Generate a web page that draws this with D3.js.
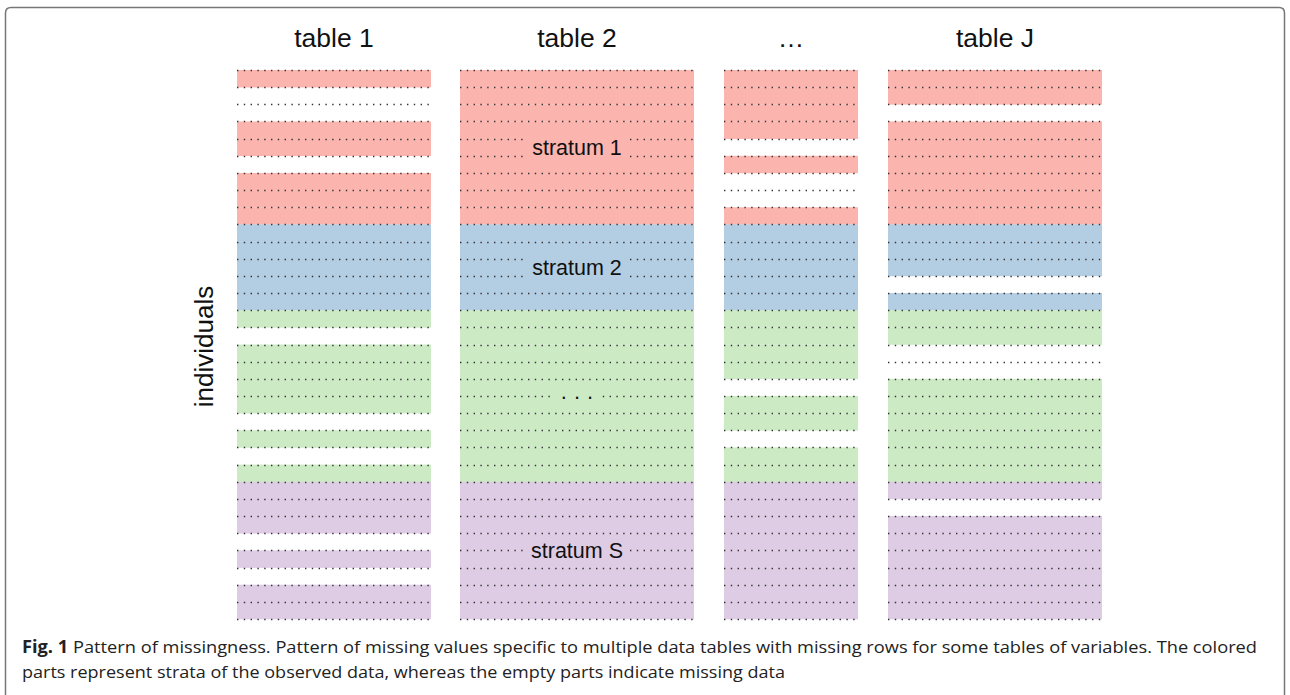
<!DOCTYPE html>
<html>
<head>
<meta charset="utf-8">
<script src="https://cdn.jsdelivr.net/npm/d3@7"></script>
<style>
  html, body { margin: 0; padding: 0; background: #fff; }
  svg { display: block; }
</style>
</head>
<body>
<svg id="mainFrame"></svg>
<script>
// Tables of variables (columns) and their header labels
const tables = ['table 1', 'table 2', '…', 'table J'];

// Strata of individuals: label shown in table 2, number of rows
const strata = ['stratum 1', 'stratum 2', '· · ·', 'stratum S'];
const strataRows = [9, 5, 10, 8];
const strataColors = ['#fbb4ae', '#b3cde3', '#ccebc5', '#decbe4'];

// Missing rows (individual index, 0-based) for each table
const missing1 = [1, 2, 5, 15, 20, 22, 27, 29];
const missing2 = [];
const missing3 = [4, 6, 7, 18, 21];
const missingJ = [2, 12, 16, 17, 25];
const missingByTable = [missing1, missing2, missing3, missingJ];

// Column extents in pixels (left, right) for each table
const tableLeft = [237, 460, 724, 888];
const tableRight = [431, 694, 858, 1102];

const captionBold = 'Fig. 1';
const captionLine1 = ' Pattern of missingness. Pattern of missing values specific to multiple data tables with missing rows for some tables of variables. The colored';
const captionLine2 = 'parts represent strata of the observed data, whereas the empty parts indicate missing data';

const width = 1290, height = 695;
const svg = d3.select('#mainFrame')
    .attr('width', width)
    .attr('height', height);

// Frame around the figure
svg.append('path')
    .attr('d', `M5.5,${height + 2} V13 Q5.5,7.5 11,7.5 H1279 Q1284.5,7.5 1284.5,13 V${height + 2}`)
    .attr('fill', 'none')
    .attr('stroke', '#777')
    .attr('stroke-width', 1.5);

// Build the individual rows from the strata sizes
const nRows = d3.sum(strataRows);
const rowStratum = strataRows.flatMap((n, s) => d3.range(n).map(() => s));

const y = d3.scaleLinear()
    .domain([0, nRows])
    .range([70, 619]);

const strataStart = d3.cumsum([0, ...strataRows]);
const font = 'Liberation Sans, Arial, sans-serif';

const tableGroup = svg.append('g').attr('id', 'tables');

tables.forEach((name, t) => {
    const g = tableGroup.append('g').attr('class', 'table');
    const x0 = tableLeft[t], x1 = tableRight[t];
    const miss = new Set(missingByTable[t]);

    // colored rows for observed individuals
    g.selectAll('rect')
        .data(d3.range(nRows).filter(i => !miss.has(i)))
        .join('rect')
        .attr('x', x0)
        .attr('width', x1 - x0)
        .attr('y', i => y(i))
        .attr('height', i => y(i + 1) - y(i) + 0.3)
        .attr('fill', i => strataColors[rowStratum[i]]);

    // dotted separators at every row boundary
    g.selectAll('line')
        .data(d3.range(nRows + 1))
        .join('line')
        .attr('x1', x0)
        .attr('x2', x1)
        .attr('y1', i => Math.round(y(i)) + 0.5)
        .attr('y2', i => Math.round(y(i)) + 0.5)
        .attr('stroke', '#333')
        .attr('stroke-width', 1.3)
        .attr('stroke-dasharray', '1.4 5.4');

    // header
    svg.append('text')
        .attr('x', (x0 + x1) / 2)
        .attr('y', 47)
        .attr('text-anchor', 'middle')
        .attr('font-family', font)
        .attr('font-size', 26.5)
        .attr('fill', '#111')
        .text(name);
});

// stratum labels inside table 2, on a patch of their own colour
const labelX = (tableLeft[1] + tableRight[1]) / 2;
const labelRow = [4.5, 2.5, 5, 4];
const labels = svg.append('g').selectAll('g')
    .data(strata)
    .join('g')
    .attr('transform', (d, i) => `translate(${labelX},${y(strataStart[i] + labelRow[i])})`);

labels.append('text')
    .attr('text-anchor', 'middle')
    .attr('dy', '0.35em')
    .attr('font-family', font)
    .attr('font-size', 21.5)
    .attr('fill', '#111')
    .text(d => d)
    .each(function (d, i) {
        const b = this.getBBox();
        d3.select(this.parentNode).insert('rect', 'text')
            .attr('x', b.x - 6)
            .attr('y', b.y)
            .attr('width', b.width + 12)
            .attr('height', b.height)
            .attr('fill', strataColors[i]);
    });

// y label
svg.append('text')
    .attr('transform', `translate(213, ${y(nRows / 2) + 2}) rotate(-90)`)
    .attr('text-anchor', 'middle')
    .attr('font-family', font)
    .attr('font-size', 26)
    .attr('fill', '#111')
    .text('individuals');

// caption
const cap = svg.append('g')
    .attr('font-family', 'Open Sans, Noto Sans, sans-serif')
    .attr('font-size', 17)
    .attr('fill', '#222');

const t1 = cap.append('text')
    .attr('x', 22)
    .attr('y', 653)
    .attr('textLength', 1235)
    .attr('lengthAdjust', 'spacingAndGlyphs');
t1.append('tspan').attr('font-weight', 'bold').text(captionBold);
t1.append('tspan').text(captionLine1);

cap.append('text')
    .attr('x', 22)
    .attr('y', 678)
    .attr('textLength', 763)
    .attr('lengthAdjust', 'spacingAndGlyphs')
    .text(captionLine2);
</script>
</body>
</html>
